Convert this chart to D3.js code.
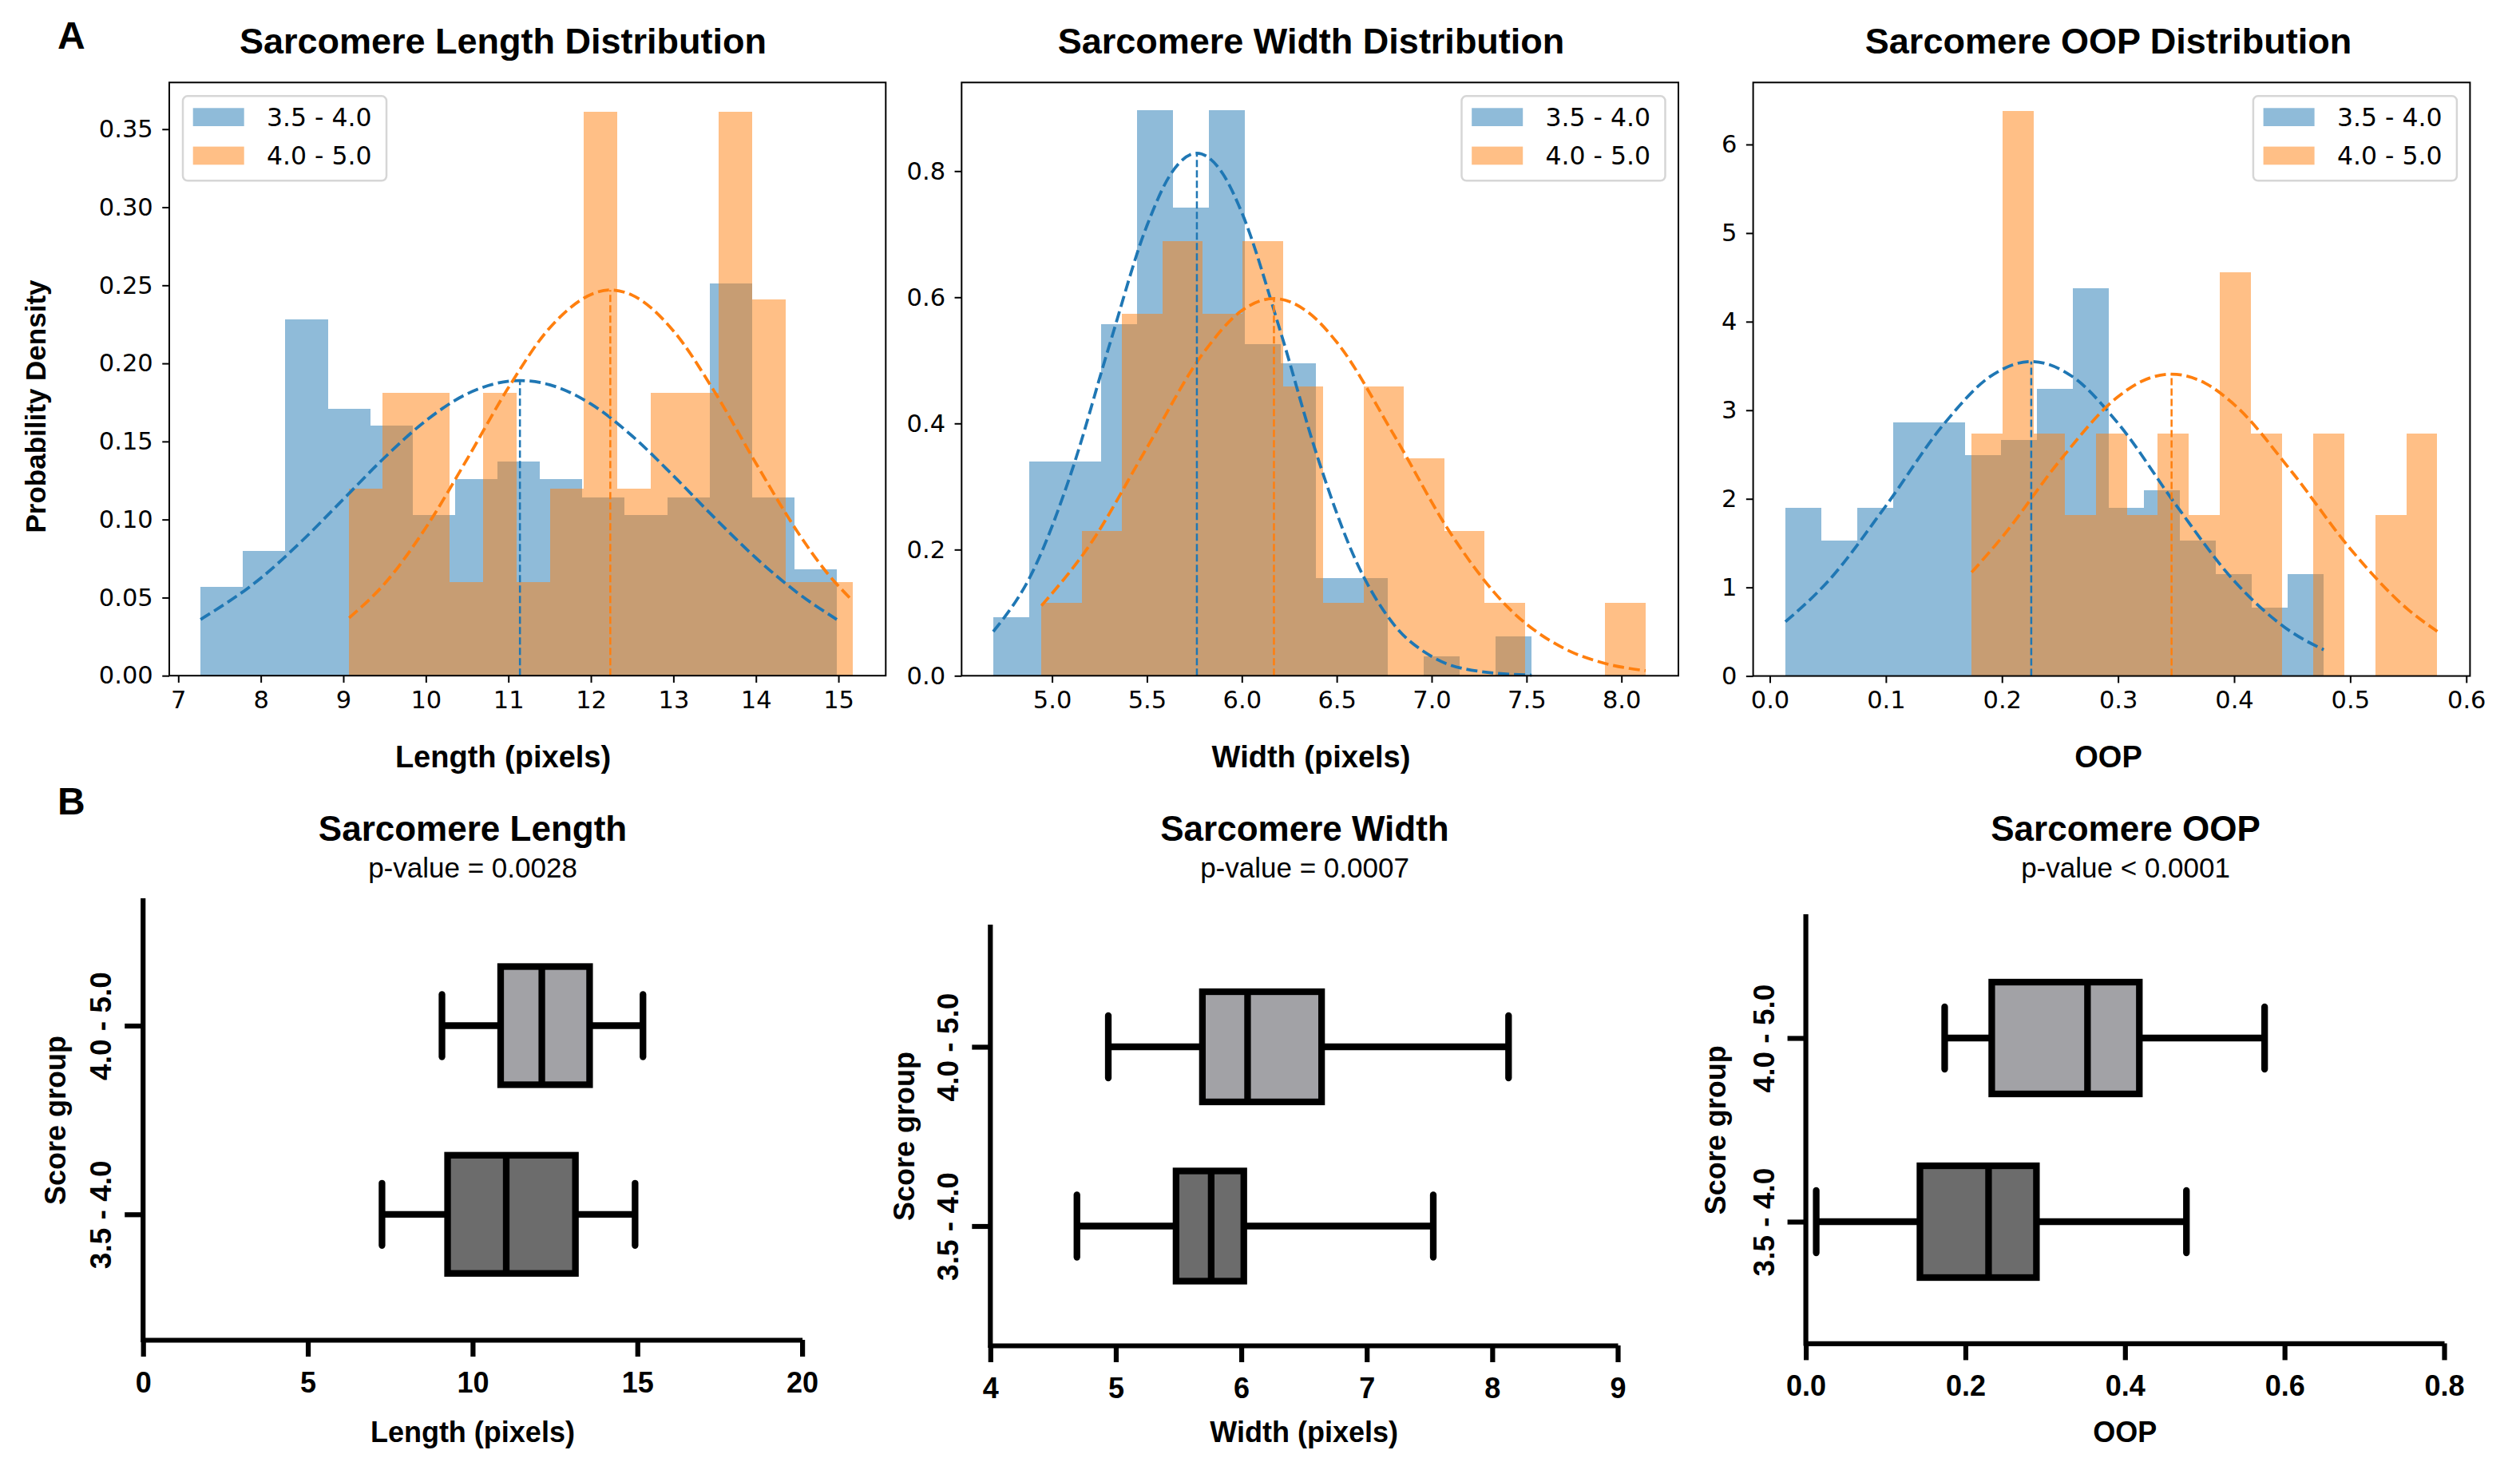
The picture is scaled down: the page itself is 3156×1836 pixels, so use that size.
<!DOCTYPE html>
<html><head><meta charset="utf-8">
<script src="https://cdn.jsdelivr.net/npm/d3@7"></script>
<style>body{margin:0;background:#fff}</style>
</head><body>
<svg id="c" width="3156" height="1836"></svg>
<script>
// ---------------- DATA ----------------
const groups = ["3.5 - 4.0", "4.0 - 5.0"];

// Length histogram (density)
const lenEdges35 = [7.27,7.784,8.298,8.812,9.326,9.84,10.354,10.868,11.382,11.896,12.41,12.924,13.438,13.952,14.466,14.98];
const lenDens35  = [0.057,0.080,0.228,0.171,0.160,0.103,0.126,0.137,0.126,0.114,0.103,0.114,0.251,0.114,0.068];
const lenEdges40 = [9.07,9.477,9.883,10.29,10.697,11.103,11.51,11.917,12.323,12.73,13.137,13.543,13.95,14.357,14.763,15.17];
const lenDens40  = [0.120,0.181,0.181,0.060,0.181,0.060,0.120,0.361,0.120,0.181,0.181,0.361,0.241,0.060,0.060];
const lenFit35X = [7.27,8,8.5,9,9.5,10,10.5,11.14,11.5,12,12.5,13,13.5,14,14.5,14.98];
const lenFit35Y = [0.036,0.0625,0.0864,0.113,0.1397,0.1633,0.1805,0.189,0.1863,0.174,0.1535,0.128,0.101,0.0754,0.0532,0.036];
const lenFit40X = [9.07,9.5,10,10.5,11,11.5,12.235,12.5,13,13.5,14,14.5,14.85,15.17];
const lenFit40Y = [0.037,0.0589,0.0948,0.1387,0.1844,0.2227,0.247,0.2437,0.2208,0.1817,0.136,0.0924,0.0666,0.048];
const lenMean35 = [11.14, 0.189];
const lenMean40 = [12.235, 0.247];

// Width histogram
const widEdges35 = [4.690,4.879,5.068,5.257,5.447,5.636,5.825,6.014,6.203,6.392,6.581,6.770,6.960,7.149,7.338,7.527];
const widDens35  = [0.093,0.340,0.340,0.557,0.897,0.742,0.897,0.526,0.495,0.155,0.155,0,0.031,0,0.062];
const widEdges40 = [4.944,5.156,5.368,5.581,5.793,6.005,6.217,6.429,6.642,6.854,7.066,7.278,7.491,7.703,7.915,8.127];
const widDens40  = [0.115,0.230,0.574,0.689,0.574,0.689,0.459,0.115,0.459,0.345,0.230,0.115,0,0,0.115];
const widFit35X = [4.69,4.9,5.1,5.3,5.5,5.63,5.763,5.9,6.0,6.2,6.4,6.6,6.8,7.0,7.25,7.527];
const widFit35Y = [0.070,0.1663,0.321,0.5218,0.7137,0.7975,0.8285,0.7956,0.734,0.549,0.3453,0.1829,0.0815,0.0306,0.007,0.001];
const widFit40X = [4.944,5.2,5.5,5.8,6.0,6.169,6.35,6.5,6.8,7.1,7.4,7.7,7.9,8.127];
const widFit40Y = [0.111,0.208,0.3616,0.513,0.579,0.598,0.576,0.5288,0.3823,0.2257,0.109,0.0429,0.0206,0.008];
const widMean35 = [5.763, 0.8285];
const widMean40 = [6.169, 0.598];

// OOP histogram
const oopEdges35 = [0.0134,0.0443,0.0752,0.1062,0.1371,0.1680,0.1989,0.2298,0.2608,0.2917,0.3226,0.3535,0.3844,0.4154,0.4463,0.4772];
const oopDens35  = [1.90,1.53,1.90,2.86,2.86,2.49,2.66,3.24,4.38,1.90,2.10,1.53,1.15,0.77,1.15];
const oopEdges40 = [0.1738,0.2005,0.2273,0.2540,0.2808,0.3075,0.3343,0.3610,0.3878,0.4145,0.4413,0.4680,0.4948,0.5215,0.5483,0.5750];
const oopDens40  = [2.74,6.38,2.74,1.82,2.74,1.82,2.74,1.82,4.56,2.74,0,2.74,0,1.82,2.74];
const oopFit35X = [0.0134,0.05,0.1,0.15,0.19,0.2252,0.26,0.3,0.35,0.4,0.45,0.4772];
const oopFit35Y = [0.612,1.067,1.921,2.845,3.382,3.55,3.386,2.852,1.929,1.073,0.491,0.296];
const oopFit40X = [0.1738,0.2,0.25,0.3,0.32,0.3461,0.375,0.4,0.45,0.5,0.55,0.575];
const oopFit40Y = [1.17,1.565,2.434,3.154,3.325,3.408,3.306,3.065,2.299,1.437,0.748,0.504];
const oopMean35 = [0.2252, 3.55];
const oopMean40 = [0.3461, 3.408];

// Histogram tick labels
const lenXTicks = [7,8,9,10,11,12,13,14,15];
const lenYTicks = [0,0.05,0.10,0.15,0.20,0.25,0.30,0.35];
const widXTicks = [5.0,5.5,6.0,6.5,7.0,7.5,8.0];
const widYTicks = [0,0.2,0.4,0.6,0.8];
const oopXTicks = [0,0.1,0.2,0.3,0.4,0.5,0.6];
const oopYTicks = [0,1,2,3,4,5,6];

// Box plots: [min, q1, median, q3, max] for groups[0], groups[1]
const lenBox35 = [7.25, 9.24, 11.02, 13.12, 14.93];
const lenBox40 = [9.07, 10.85, 12.10, 13.55, 15.17];
const widBox35 = [4.69, 5.48, 5.76, 6.02, 7.53];
const widBox40 = [4.94, 5.69, 6.05, 6.64, 8.13];
const oopBox35 = [0.013, 0.143, 0.229, 0.289, 0.477];
const oopBox40 = [0.174, 0.233, 0.353, 0.418, 0.575];
const lenBoxTicks = [0,5,10,15,20];
const widBoxTicks = [4,5,6,7,8,9];
const oopBoxTicks = [0,0.2,0.4,0.6,0.8];
const pValues = ["p-value = 0.0028", "p-value = 0.0007", "p-value < 0.0001"];

// ---------------- DRAW ----------------
const svg = d3.select('#c');
const BLUE = '#1f77b4', ORANGE = '#ff7f0e';
const SANS = "'Liberation Sans', Arial, sans-serif";
const DJ = "'DejaVu Sans', sans-serif";

function hist(o){
  const g = svg.append('g');
  const x = d3.scaleLinear().domain(o.xd).range([o.l, o.r]);
  const y = d3.scaleLinear().domain(o.yd).range([o.b, o.t]);
  [[o.eA,o.dA,BLUE],[o.eB,o.dB,ORANGE]].forEach(([e,d,c])=>{
    g.append('g').attr('shape-rendering','crispEdges').selectAll('rect')
      .data(d.map((v,i)=>({v, x0:e[i], x1:e[i+1]})).filter(q=>q.v>0))
      .join('rect')
      .attr('x', q=>x(q.x0)).attr('width', q=>x(q.x1)-x(q.x0))
      .attr('y', q=>y(q.v)).attr('height', q=>y(0)-y(q.v))
      .attr('fill', c).attr('fill-opacity', 0.5);
  });
  const line = d3.line().x(p=>x(p[0])).y(p=>y(p[1])).curve(d3.curveMonotoneX);
  [[o.fAx,o.fAy,BLUE],[o.fBx,o.fBy,ORANGE]].forEach(([fx,fy,c])=>{
    g.append('path').attr('d', line(fx.map((v,i)=>[v, fy[i]])))
      .attr('fill','none').attr('stroke',c).attr('stroke-width',3.75).attr('stroke-dasharray','14,6');
  });
  [[o.mA,BLUE],[o.mB,ORANGE]].forEach(([m,c])=>{
    g.append('line').attr('x1',x(m[0])).attr('x2',x(m[0])).attr('y1',y(0)).attr('y2',y(m[1]))
      .attr('stroke',c).attr('stroke-width',2.5).attr('stroke-dasharray','9,4');
  });
  const xa = g.append('g').attr('transform',`translate(0,${o.b})`)
    .call(d3.axisBottom(x).tickValues(o.xt).tickFormat(d3.format(o.xf)).tickSize(8.75).tickPadding(10.5).tickSizeOuter(0));
  const ya = g.append('g').attr('transform',`translate(${o.l},0)`)
    .call(d3.axisLeft(y).tickValues(o.yt).tickFormat(d3.format(o.yf)).tickSize(8.75).tickPadding(11.5).tickSizeOuter(0));
  [xa,ya].forEach(a=>{
    a.select('.domain').remove();
    a.attr('font-size',30.5).attr('font-family',DJ).attr('color','#000');
    a.selectAll('line').attr('stroke-width',2);
  });
  g.append('rect').attr('x',o.l).attr('y',o.t).attr('width',o.r-o.l).attr('height',o.b-o.t)
    .attr('fill','none').attr('stroke','#000').attr('stroke-width',2);
  // legend
  const lw = 255, lh = 106;
  const lx = o.legLeft ? o.l + 17 : o.r - 16.5 - lw;
  const lg = g.append('g').attr('transform',`translate(${lx},${o.t+17})`);
  lg.append('rect').attr('width',lw).attr('height',lh).attr('rx',6)
    .attr('fill','#fff').attr('fill-opacity',0.8).attr('stroke','#d6d6d6').attr('stroke-width',2.5);
  groups.forEach((gn,i)=>{
    lg.append('rect').attr('x',12.7).attr('y',15+i*48.3).attr('width',64).attr('height',22.7)
      .attr('fill',[BLUE,ORANGE][i]).attr('fill-opacity',0.5);
    lg.append('text').attr('x',105).attr('y',37.7+i*48.3).text(gn)
      .attr('font-family',DJ).attr('font-size',31.5).attr('fill','#000');
  });
  // title and labels
  g.append('text').attr('x',o.tc).attr('y',66.5).attr('text-anchor','middle').text(o.title)
    .attr('font-family',SANS).attr('font-weight','bold').attr('font-size',45).attr('fill','#000');
  g.append('text').attr('x',o.tc).attr('y',961).attr('text-anchor','middle').text(o.xlabel)
    .attr('font-family',SANS).attr('font-weight','bold').attr('font-size',38).attr('fill','#000');
  if(o.ylabel){
    g.append('text').attr('transform',`translate(57,509) rotate(-90)`).attr('text-anchor','middle').text(o.ylabel)
      .attr('font-family',SANS).attr('font-weight','bold').attr('font-size',35).attr('fill','#000');
  }
}

hist({l:212,r:1109.3,t:103.3,b:846.2,xd:[6.8907,15.573],yd:[0,0.3799],
  eA:lenEdges35,dA:lenDens35,eB:lenEdges40,dB:lenDens40,
  fAx:lenFit35X,fAy:lenFit35Y,fBx:lenFit40X,fBy:lenFit40Y,mA:lenMean35,mB:lenMean40,
  xt:lenXTicks,xf:'d',yt:lenYTicks,yf:'.2f',legLeft:true,
  title:'Sarcomere Length Distribution',xlabel:'Length (pixels)',ylabel:'Probability Density',tc:630});
hist({l:1204.3,r:2102,t:103.3,b:846.3,xd:[4.5234,8.300],yd:[0,0.9405],
  eA:widEdges35,dA:widDens35,eB:widEdges40,dB:widDens40,
  fAx:widFit35X,fAy:widFit35Y,fBx:widFit40X,fBy:widFit40Y,mA:widMean35,mB:widMean40,
  xt:widXTicks,xf:'.1f',yt:widYTicks,yf:'.1f',legLeft:false,
  title:'Sarcomere Width Distribution',xlabel:'Width (pixels)',tc:1642});
hist({l:2195.6,r:3093.4,t:103.3,b:846.6,xd:[-0.01438,0.6032],yd:[0,6.70],
  eA:oopEdges35,dA:oopDens35,eB:oopEdges40,dB:oopDens40,
  fAx:oopFit35X,fAy:oopFit35Y,fBx:oopFit40X,fBy:oopFit40Y,mA:oopMean35,mB:oopMean40,
  xt:oopXTicks,xf:'.1f',yt:oopYTicks,yf:'d',legLeft:false,
  title:'Sarcomere OOP Distribution',xlabel:'OOP',tc:2640.5});

function box(o){
  const g = svg.append('g');
  const x = d3.scaleLinear().domain(o.xd).range([o.l, o.r]);
  const y = d3.scalePoint().domain(groups).range([o.cb, o.ct]);
  const AX = 6.2, SW = 8.3;
  // y axis line
  g.append('line').attr('x1',o.l).attr('x2',o.l).attr('y1',o.t).attr('y2',o.b)
    .attr('stroke','#000').attr('stroke-width',AX).attr('stroke-linecap','square');
  const xa = g.append('g').attr('transform',`translate(0,${o.b})`)
    .call(d3.axisBottom(x).tickValues(o.xt).tickFormat(d3.format(o.xf)).tickSize(21).tickPadding(19).tickSizeOuter(0));
  xa.attr('font-size',36).attr('font-family',SANS).attr('font-weight','bold').attr('color','#000');
  xa.selectAll('line').attr('stroke-width',AX);
  xa.select('.domain').attr('stroke-width',AX);
  const ya = g.append('g').attr('transform',`translate(${o.l},0)`)
    .call(d3.axisLeft(y).tickSize(23).tickSizeOuter(0));
  ya.select('.domain').remove();
  ya.attr('font-size',37).attr('font-family',SANS).attr('font-weight','bold').attr('color','#000');
  ya.selectAll('line').attr('stroke-width',AX);
  ya.selectAll('text').attr('transform','rotate(-90)').attr('text-anchor','middle')
    .attr('x',0).attr('y',-40).attr('dy',0);
  // boxes
  const fills = ['#6c6c6c','#a2a2a6'];
  [o.d35,o.d40].forEach((d,i)=>{
    const cy = y(groups[i]);
    g.append('line').attr('x1',x(d[0])).attr('x2',x(d[4])).attr('y1',cy).attr('y2',cy)
      .attr('stroke','#000').attr('stroke-width',SW);
    [d[0],d[4]].forEach(v=>{
      g.append('line').attr('x1',x(v)).attr('x2',x(v)).attr('y1',cy-39).attr('y2',cy+39)
        .attr('stroke','#000').attr('stroke-width',SW).attr('stroke-linecap','round');
    });
    g.append('rect').attr('x',x(d[1])).attr('width',x(d[3])-x(d[1])).attr('y',cy-o.bh).attr('height',2*o.bh)
      .attr('fill',fills[i]).attr('stroke','#000').attr('stroke-width',SW);
    g.append('line').attr('x1',x(d[2])).attr('x2',x(d[2])).attr('y1',cy-o.bh).attr('y2',cy+o.bh)
      .attr('stroke','#000').attr('stroke-width',SW);
  });
  // texts
  const cx = (o.l+o.r)/2;
  g.append('text').attr('x',o.tc).attr('y',1053).attr('text-anchor','middle').text(o.title)
    .attr('font-family',SANS).attr('font-weight','bold').attr('font-size',44).attr('fill','#000');
  g.append('text').attr('x',o.tc).attr('y',1099).attr('text-anchor','middle').text(o.p)
    .attr('font-family',SANS).attr('font-size',35).attr('fill','#000');
  g.append('text').attr('x',cx).attr('y',1806).attr('text-anchor','middle').text(o.xlabel)
    .attr('font-family',SANS).attr('font-weight','bold').attr('font-size',36).attr('fill','#000');
  g.append('text').attr('transform',`translate(${o.sgx},${(o.t+o.b)/2}) rotate(-90)`).attr('text-anchor','middle')
    .text('Score group').attr('font-family',SANS).attr('font-weight','bold').attr('font-size',36).attr('fill','#000');
}

box({l:179.2,r:1004.6,t:1128,b:1678,cb:1520.8,ct:1284.5,bh:74,xd:[0,20],xt:lenBoxTicks,xf:'d',
  d35:lenBox35,d40:lenBox40,title:'Sarcomere Length',p:pValues[0],xlabel:'Length (pixels)',tc:592,sgx:82});
box({l:1240.3,r:2026,t:1161,b:1685,cb:1535.5,ct:1311,bh:69,xd:[4,9],xt:widBoxTicks,xf:'d',
  d35:widBox35,d40:widBox40,title:'Sarcomere Width',p:pValues[1],xlabel:'Width (pixels)',tc:1634,sgx:1145});
box({l:2261.6,r:3061,t:1148,b:1682.4,cb:1530,ct:1300,bh:70,xd:[0,0.8],xt:oopBoxTicks,xf:'.1f',
  d35:oopBox35,d40:oopBox40,title:'Sarcomere OOP',p:pValues[2],xlabel:'OOP',tc:2662,sgx:2161});

// panel letters
svg.append('text').attr('x',72).attr('y',61).text('A').attr('font-family',SANS).attr('font-weight','bold').attr('font-size',48).attr('fill','#000');
svg.append('text').attr('x',72).attr('y',1020).text('B').attr('font-family',SANS).attr('font-weight','bold').attr('font-size',48).attr('fill','#000');
</script>
</body></html>
